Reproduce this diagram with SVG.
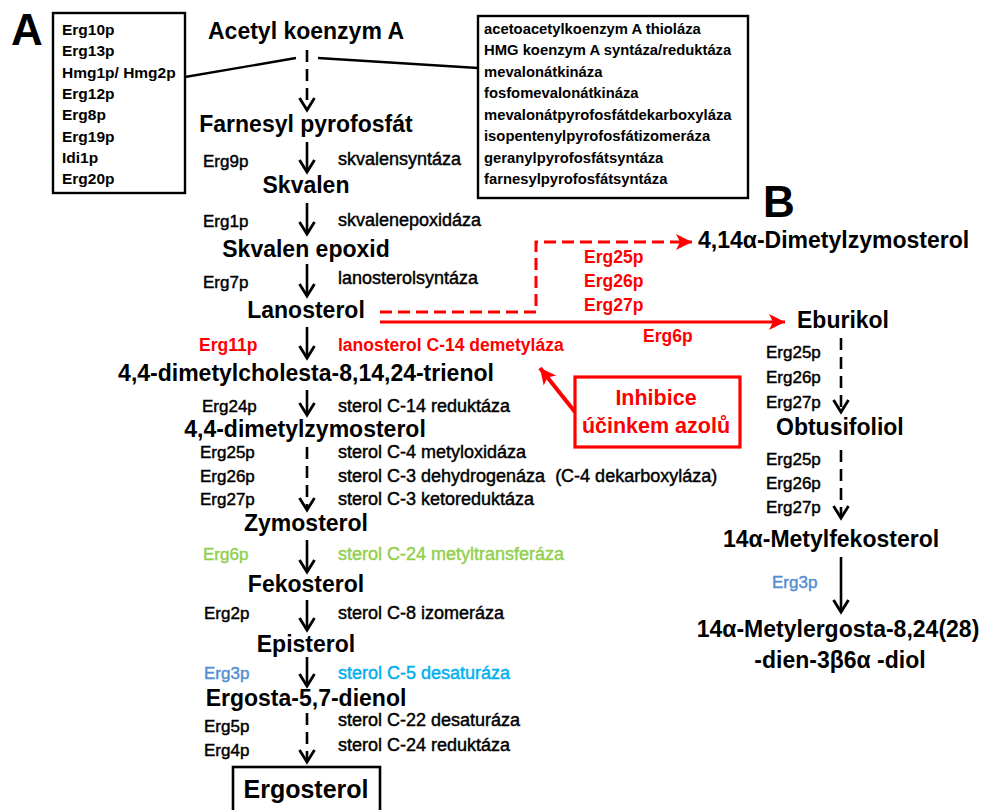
<svg xmlns="http://www.w3.org/2000/svg" width="991" height="810" viewBox="0 0 991 810">
  <style>
    text { font-family: "Liberation Sans", Arial, sans-serif; fill: #000; }
    .big { font-size: 44px; font-weight: bold; }
    .main { font-size: 23px; font-weight: bold; text-anchor: middle; }
    .mainL { font-size: 23px; font-weight: bold; }
    .side { font-size: 17px; stroke: #000; stroke-width: 0.45px; }
    .enz { font-size: 18px; }
    .sideB { font-size: 17.5px; font-weight: bold; }
    .boxL { font-size: 15.5px; font-weight: bold; }
    .boxR { font-size: 14.8px; font-weight: bold; }
    .red { fill: #FF0000; stroke: #FF0000; }
    .green { fill: #92D050; stroke: #92D050; }
    .blue { fill: #558ED5; stroke: #558ED5; }
    .cyan { fill: #00B0F0; stroke: #00B0F0; }
    .sideB.red, .main.red { stroke: none; }
    .arr { stroke: #000; stroke-width: 2.6; fill: none; marker-end: url(#vee); }
    .dash { stroke-dasharray: 12 7; }
    .frame { fill: #fff; stroke: #000; stroke-width: 2.4; }
  </style>
  <defs>
    <marker id="vee" markerUnits="userSpaceOnUse" markerWidth="16" markerHeight="18" viewBox="0 0 16 18" refX="13" refY="9" orient="auto" overflow="visible">
      <path d="M1,1.5 L13,9 L1,16.5" fill="none" stroke="#000" stroke-width="2.8" stroke-linejoin="miter"/>
    </marker>
    <marker id="redhead" markerUnits="userSpaceOnUse" markerWidth="18" markerHeight="16" viewBox="0 0 18 16" refX="16" refY="8" orient="auto" overflow="visible">
      <path d="M0,0 L16,8 L0,16 L4,8 Z" fill="#FF0000"/>
    </marker>
  </defs>

  <!-- panel letters -->
  <text class="big" x="11" y="45">A</text>
  <text class="big" x="763" y="217">B</text>

  <!-- connectors -->
  <g id="connectors">
    <!-- box leader lines -->
    <line x1="185" y1="77" x2="296" y2="58" stroke="#000" stroke-width="2.4"/>
    <line x1="318" y1="58" x2="478" y2="68" stroke="#000" stroke-width="2.4"/>
    <!-- main pathway -->
    <line class="arr dash" x1="307" y1="50" x2="307" y2="110"/>
    <line class="arr" x1="307" y1="142" x2="307" y2="172"/>
    <line class="arr" x1="307" y1="203" x2="307" y2="234"/>
    <line class="arr" x1="307" y1="264" x2="307" y2="296"/>
    <line class="arr" x1="307" y1="327" x2="307" y2="358"/>
    <line class="arr" x1="307" y1="390" x2="307" y2="415"/>
    <line class="arr dash" x1="307" y1="447" x2="307" y2="510"/>
    <line class="arr" x1="307" y1="540" x2="307" y2="572"/>
    <line class="arr" x1="307" y1="600" x2="307" y2="630"/>
    <line class="arr" x1="307" y1="657" x2="307" y2="686"/>
    <line class="arr dash" x1="307" y1="713" x2="307" y2="762"/>
    <!-- branch B -->
    <line class="arr dash" x1="841" y1="338" x2="841" y2="412"/>
    <line class="arr dash" x1="841" y1="450" x2="841" y2="518"/>
    <line class="arr" x1="841" y1="557" x2="841" y2="612"/>
    <!-- red branches from lanosterol -->
    <path d="M380,312 H536 V242 H692" fill="none" stroke="#FF0000" stroke-width="3" stroke-dasharray="12 6" marker-end="url(#redhead)"/>
    <line x1="380" y1="322" x2="785" y2="322" stroke="#FF0000" stroke-width="3" marker-end="url(#redhead)"/>
    <!-- azole inhibition -->
    <line x1="575" y1="412" x2="540" y2="368" stroke="#FF0000" stroke-width="4" marker-end="url(#redhead)"/>
  </g>

  <!-- enzyme boxes -->
  <g id="box-genes">
    <rect class="frame" x="53" y="13" width="132" height="180"/>
    <text class="boxL" x="62" y="35">Erg10p</text>
    <text class="boxL" x="62" y="56">Erg13p</text>
    <text class="boxL" x="62" y="78">Hmg1p/ Hmg2p</text>
    <text class="boxL" x="62" y="99">Erg12p</text>
    <text class="boxL" x="62" y="120">Erg8p</text>
    <text class="boxL" x="62" y="142">Erg19p</text>
    <text class="boxL" x="62" y="163">Idi1p</text>
    <text class="boxL" x="62" y="184">Erg20p</text>
  </g>
  <g id="box-enzymes">
    <rect class="frame" x="478" y="16" width="270" height="182"/>
    <text class="boxR" x="484" y="34">acetoacetylkoenzym A thioláza</text>
    <text class="boxR" x="484" y="55">HMG koenzym A syntáza/reduktáza</text>
    <text class="boxR" x="484" y="77">mevalonátkináza</text>
    <text class="boxR" x="484" y="98">fosfomevalonátkináza</text>
    <text class="boxR" x="484" y="120">mevalonátpyrofosfátdekarboxyláza</text>
    <text class="boxR" x="484" y="141">isopentenylpyrofosfátizomeráza</text>
    <text class="boxR" x="484" y="163">geranylpyrofosfátsyntáza</text>
    <text class="boxR" x="484" y="184">farnesylpyrofosfátsyntáza</text>
  </g>

  <!-- main pathway nodes -->
  <g id="acetyl-coa"><text class="main" x="306" y="39">Acetyl koenzym A</text></g>
  <g id="farnesyl-pp"><text class="main" x="306" y="132">Farnesyl pyrofosfát</text></g>
  <g id="skvalen"><text class="main" x="306" y="193">Skvalen</text></g>
  <g id="skvalen-epoxid"><text class="main" x="306" y="257">Skvalen epoxid</text></g>
  <g id="lanosterol"><text class="main" x="306" y="318">Lanosterol</text></g>
  <g id="trienol"><text class="main" x="306" y="381">4,4-dimetylcholesta-8,14,24-trienol</text></g>
  <g id="dimetylzymosterol"><text class="main" x="305" y="437">4,4-dimetylzymosterol</text></g>
  <g id="zymosterol"><text class="main" x="306" y="531">Zymosterol</text></g>
  <g id="fekosterol"><text class="main" x="306" y="592">Fekosterol</text></g>
  <g id="episterol"><text class="main" x="306" y="652">Episterol</text></g>
  <g id="ergosta-dienol"><text class="main" x="306" y="706">Ergosta-5,7-dienol</text></g>
  <g id="ergosterol">
    <rect x="233" y="767" width="147" height="50" fill="#fff" stroke="#000" stroke-width="2.6"/>
    <text class="main" x="306" y="798" style="font-size:25px">Ergosterol</text>
  </g>

  <!-- step labels, main pathway -->
  <g id="step-labels">
    <text class="side" x="203" y="167">Erg9p</text>
    <text class="side enz" x="338" y="165">skvalensyntáza</text>
    <text class="side" x="203" y="227">Erg1p</text>
    <text class="side enz" x="338" y="226">skvalenepoxidáza</text>
    <text class="side" x="203" y="288">Erg7p</text>
    <text class="side enz" x="338" y="284">lanosterolsyntáza</text>
    <text class="sideB red" x="199" y="351">Erg11p</text>
    <text class="sideB red" x="338" y="351">lanosterol C-14 demetyláza</text>
    <text class="side" x="202" y="412">Erg24p</text>
    <text class="side enz" x="338" y="412">sterol C-14 reduktáza</text>
    <text class="side" x="200" y="458">Erg25p</text>
    <text class="side" x="200" y="482">Erg26p</text>
    <text class="side" x="200" y="505">Erg27p</text>
    <text class="side enz" x="338" y="458">sterol C-4 metyloxidáza</text>
    <text class="side enz" x="338" y="482">sterol C-3 dehydrogenáza &#160;(C-4 dekarboxyláza)</text>
    <text class="side enz" x="338" y="505">sterol C-3 ketoreduktáza</text>
    <text class="side green" x="203" y="560">Erg6p</text>
    <text class="side enz green" x="338" y="560">sterol C-24 metyltransferáza</text>
    <text class="side" x="204" y="619">Erg2p</text>
    <text class="side enz" x="338" y="619">sterol C-8 izomeráza</text>
    <text class="side blue" x="204" y="679">Erg3p</text>
    <text class="side enz cyan" x="338" y="679">sterol C-5 desaturáza</text>
    <text class="side" x="204" y="732">Erg5p</text>
    <text class="side enz" x="338" y="726">sterol C-22 desaturáza</text>
    <text class="side" x="204" y="756">Erg4p</text>
    <text class="side enz" x="338" y="751">sterol C-24 reduktáza</text>
  </g>

  <!-- branch B nodes -->
  <g id="dimetylzymosterol-414"><text class="mainL" x="698" y="248">4,14α-Dimetylzymosterol</text></g>
  <g id="eburikol"><text class="mainL" x="797" y="328">Eburikol</text></g>
  <g id="obtusifoliol"><text class="mainL" x="776" y="435">Obtusifoliol</text></g>
  <g id="metylfekosterol"><text class="mainL" x="723" y="547">14α-Metylfekosterol</text></g>
  <g id="metylergosta-diol">
    <text class="main" x="838" y="637">14α-Metylergosta-8,24(28)</text>
    <text class="main" x="840" y="668">-dien-3β6α -diol</text>
  </g>

  <!-- step labels, branch B -->
  <g id="branch-labels">
    <text class="sideB red" x="584" y="263">Erg25p</text>
    <text class="sideB red" x="584" y="287">Erg26p</text>
    <text class="sideB red" x="584" y="311">Erg27p</text>
    <text class="sideB red" x="643" y="342">Erg6p</text>
    <text class="side" x="766" y="358">Erg25p</text>
    <text class="side" x="766" y="383">Erg26p</text>
    <text class="side" x="766" y="408">Erg27p</text>
    <text class="side" x="766" y="465">Erg25p</text>
    <text class="side" x="766" y="489">Erg26p</text>
    <text class="side" x="766" y="513">Erg27p</text>
    <text class="side blue" x="772" y="588">Erg3p</text>
  </g>

  <!-- azole inhibition note -->
  <g id="azole-note">
    <rect x="575" y="377" width="165" height="70" fill="#fff" stroke="#FF0000" stroke-width="3.2"/>
    <text class="main red" x="656" y="405" style="font-size:21.5px">Inhibice</text>
    <text class="main red" x="656" y="433" style="font-size:21.5px">účinkem azolů</text>
  </g>
</svg>
